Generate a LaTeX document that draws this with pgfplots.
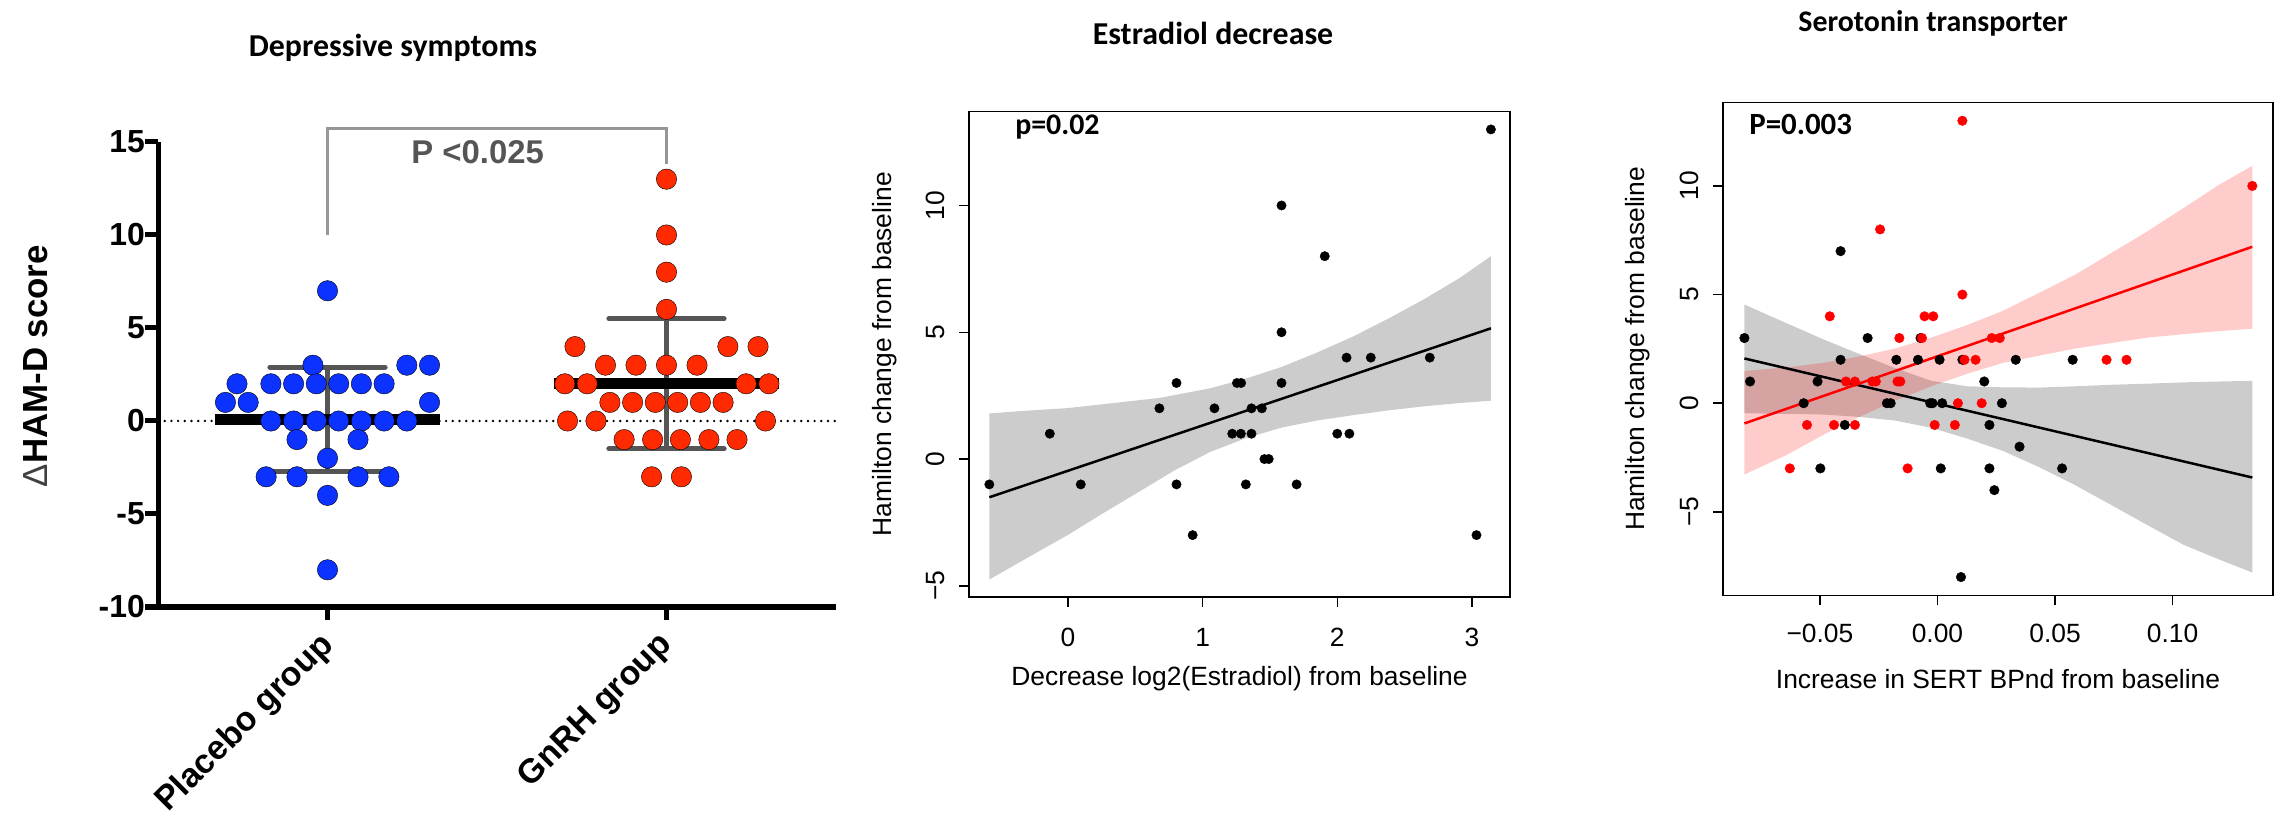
\documentclass[border=0pt]{standalone}
\usepackage{fontspec}
\setmainfont{Liberation Sans}
\newfontfamily\calib{Carlito}
\usepackage{pgfplots}
\pgfplotsset{compat=1.18}
\definecolor{dotblue}{RGB}{12,50,255}
\definecolor{dotred}{RGB}{255,42,0}
\definecolor{barcol}{RGB}{85,85,85}
\definecolor{bracket}{RGB}{150,150,150}
\definecolor{bandgray}{RGB}{204,204,204}
\newcommand{\fs}[1]{\fontsize{#1}{#1}\selectfont}

\begin{document}
\begin{tikzpicture}
\path[use as bounding box] (0,0) rectangle (2280bp,819bp);

% ---- titles
\node[anchor=base, font=\calib\bfseries\fs{32}, inner sep=0pt] at (393bp,762bp) {Depressive symptoms};
\node[anchor=base, font=\calib\bfseries\fs{32}, inner sep=0pt] at (1213bp,774bp) {Estradiol decrease};
\node[anchor=base, font=\calib\bfseries\fs{30}, inner sep=0pt] at (1933bp,787bp) {Serotonin transporter};

% ---- panel 1: scatter dot plot
\begin{axis}[
  at={(158bp,212bp)}, anchor=south west,
  scale only axis, width=678bp, height=465bp,
  xmin=0.5, xmax=2.5, ymin=-10, ymax=15,
  axis x line*=bottom, axis y line*=left,
  axis line style={line width=5bp, -},
  tick style={line width=5bp, black},
  tick align=outside, major tick length=13bp,
  xtick={1,2}, xticklabels={Placebo group, GnRH group},
  ytick={-10,-5,0,5,10,15}, yticklabels={-10,-5,0,5,10,15},
  xticklabel style={font=\bfseries\fs{34}, xshift=-10bp, yshift=-9bp, rotate=45, anchor=north east, inner sep=0pt},
  yticklabel style={font=\bfseries\fs{32}, inner sep=0pt},
  ylabel={{\mdseries\color{darkgray}Δ}HAM-D score},
  ylabel style={at={(axis description cs:-0.18,0.518)}, anchor=center, font=\bfseries\fs{35}},
  clip=false,
]
\addplot[line width=2.7bp, line cap=round, dash pattern=on 0bp off 6.7bp] coordinates {(0.5,0) (2.5,0)};
\addplot[only marks, mark=*, mark size=10.2bp, mark options={draw=none, fill=dotblue}] coordinates {
  (1.000,7)
  (0.957,3) (1.234,3) (1.301,3)
  (0.733,2) (0.833,2) (0.900,2) (0.967,2) (1.033,2) (1.100,2) (1.167,2)
  (0.699,1) (0.766,1) (1.301,1)
  (0.833,0) (0.900,0) (0.967,0) (1.033,0) (1.100,0) (1.167,0) (1.234,0)
  (0.910,-1) (1.090,-1)
  (1.000,-2)
  (0.819,-3) (0.910,-3) (1.090,-3) (1.181,-3)
  (1.000,-4)
  (1.000,-8)
};
\addplot[only marks, mark=*, mark size=10.2bp, mark options={draw=none, fill=dotred}] coordinates {
  (2,13) (2,10) (2,8) (2,6)
  (1.730,4) (2.181,4) (2.270,4)
  (1.820,3) (1.910,3) (2.000,3) (2.090,3)
  (1.700,2) (1.766,2) (2.235,2) (2.302,2)
  (1.833,1) (1.900,1) (1.967,1) (2.033,1) (2.100,1) (2.167,1)
  (1.708,0) (1.792,0) (2.292,0)
  (1.875,-1) (1.959,-1) (2.041,-1) (2.125,-1) (2.208,-1)
  (1.956,-3) (2.044,-3)
};
% SD bars
\addplot[barcol, line width=5bp] coordinates {(1,-2.7) (1,2.9)};
\addplot[barcol, line width=5bp, line cap=round] coordinates {(0.83,2.9) (1.17,2.9)};
\addplot[barcol, line width=5bp, line cap=round] coordinates {(0.83,-2.7) (1.17,-2.7)};
\addplot[barcol, line width=5bp] coordinates {(2,-1.5) (2,5.5)};
\addplot[barcol, line width=5bp, line cap=round] coordinates {(1.83,5.5) (2.17,5.5)};
\addplot[barcol, line width=5bp, line cap=round] coordinates {(1.83,-1.5) (2.17,-1.5)};
% means
\addplot[black, line width=11bp] coordinates {(0.668,0.1) (1.332,0.1)};
\addplot[black, line width=11bp] coordinates {(1.667,2.0) (2.333,2.0)};
% significance bracket
\addplot[bracket, line width=3.5bp] coordinates {(1,10) (1,15.72) (2,15.72) (2,13.8)};
\node[font=\bfseries\fs{33}, text=barcol] at (axis cs:1.443,14.46) {P <0.025};
\end{axis}

% ---- panel 2: estradiol
\begin{axis}[
  at={(969bp,222bp)}, anchor=south west,
  scale only axis, width=541bp, height=485.6bp,
  xmin=-0.735, xmax=3.283, ymin=-5.44, ymax=13.71,
  axis line style={line width=1.5bp},
  tick style={line width=1.5bp, black},
  tick align=outside, major tick length=10bp, tick pos=left,
  xtick={0,1,2,3}, xticklabels={0,1,2,3},
  ytick={-5,0,5,10}, yticklabels={−5,0,5,10},
  ticklabel style={font=\fs{26.5}},
  xticklabel shift=21bp, yticklabel shift=14bp,
  xticklabel style={anchor=north, inner sep=0pt},
  yticklabel style={rotate=90, anchor=south, inner sep=0pt},
  xlabel={Decrease log2(Estradiol) from baseline},
  ylabel={Hamilton change from baseline},
  label style={font=\fs{26.5}},
  xlabel style={at={(axis description cs:0.5,-0.169)}, anchor=center},
  ylabel style={at={(axis description cs:-0.155,0.5)}, anchor=center},
]
\addplot[fill=bandgray, draw=none] coordinates {
  (-0.584,1.80) (-0.3,1.91) (0,2.01) (0.68,2.41) (1.056,2.79) (1.32,3.17) (1.586,3.63)
  (1.85,4.2) (2.117,4.83) (2.38,5.54) (2.647,6.31) (2.912,7.15) (3.141,8.0)
  (3.141,2.30) (2.912,2.21) (2.647,2.08) (2.38,1.92) (2.117,1.73) (1.85,1.52)
  (1.586,1.24) (1.32,0.82) (1.056,0.28) (0.79,-0.45) (0.525,-1.30) (0.26,-2.14)
  (0,-2.99) (-0.27,-3.8) (-0.584,-4.75)
} -- cycle;
\addplot[black, line width=2.5bp] coordinates {(-0.584,-1.507) (3.141,5.155)};
\addplot[only marks, mark=*, mark size=4.7bp, black] coordinates {
  (-0.584,-1) (-0.135,1) (0.095,-1) (0.679,2) (0.806,3) (0.806,-1) (0.926,-3)
  (1.088,2) (1.220,1) (1.255,3) (1.286,3) (1.284,1) (1.321,-1) (1.363,2) (1.363,1)
  (1.440,2) (1.459,0) (1.491,0) (1.586,10) (1.586,5) (1.586,3) (1.698,-1)
  (1.907,8) (2.000,1) (2.069,4) (2.090,1) (2.249,4) (2.687,4) (3.034,-3) (3.141,13)
};
\node[anchor=base west, inner sep=0pt, font=\calib\bfseries\fs{30}] at (axis cs:-0.393,12.78) {p=0.02};
\end{axis}

% ---- panel 3: serotonin transporter
\begin{axis}[
  at={(1723bp,223.7bp)}, anchor=south west,
  scale only axis, width=550bp, height=493bp,
  xmin=-0.0912, xmax=0.1427, ymin=-8.84, ymax=13.85,
  axis line style={line width=1.5bp},
  tick style={line width=1.5bp, black},
  tick align=outside, major tick length=10bp, tick pos=left,
  xtick={-0.05,0,0.05,0.1}, xticklabels={−0.05,0.00,0.05,0.10},
  ytick={-5,0,5,10}, yticklabels={−5,0,5,10},
  ticklabel style={font=\fs{26.5}},
  xticklabel shift=19bp, yticklabel shift=14bp,
  xticklabel style={anchor=north, inner sep=0pt},
  yticklabel style={rotate=90, anchor=south, inner sep=0pt},
  xlabel={Increase in SERT BPnd from baseline},
  ylabel={Hamilton change from baseline},
  label style={font=\fs{26.5}},
  xlabel style={at={(axis description cs:0.5,-0.170)}, anchor=center},
  ylabel style={at={(axis description cs:-0.1545,0.5)}, anchor=center},
]
\addplot[fill=bandgray, draw=none] coordinates {
  (-0.0821,4.54) (-0.0486,2.94) (-0.0333,2.27) (-0.0179,1.61) (-0.0026,1.03)
  (0.0127,0.78) (0.028,0.73) (0.0434,0.72) (0.0587,0.78) (0.074,0.85)
  (0.0893,0.90) (0.1047,0.96) (0.12,1.00) (0.1339,1.03)
  (0.1339,-7.79) (0.12,-7.2) (0.1047,-6.52) (0.0893,-5.61) (0.074,-4.69)
  (0.0587,-3.78) (0.0434,-2.95) (0.028,-2.20) (0.0127,-1.63) (-0.0026,-1.13)
  (-0.0179,-0.80) (-0.0333,-0.63) (-0.0486,-0.52) (-0.0821,-0.46)
} -- cycle;
\addplot[fill=red, fill opacity=0.2, draw=none] coordinates {
  (-0.0821,1.48) (-0.0639,1.65) (-0.0486,1.86) (-0.0333,2.15) (-0.0179,2.52)
  (-0.0026,3.02) (0.0127,3.60) (0.028,4.26) (0.0434,5.09) (0.0587,5.92)
  (0.074,6.92) (0.0893,7.91) (0.1047,8.99) (0.12,10.07) (0.1339,10.93)
  (0.1339,3.43) (0.12,3.32) (0.1047,3.18) (0.0893,3.02) (0.074,2.77)
  (0.0587,2.52) (0.0434,2.19) (0.028,1.86) (0.0127,1.36) (-0.0026,0.78)
  (-0.0179,0.12) (-0.0333,-0.63) (-0.0486,-1.46) (-0.0639,-2.37) (-0.0821,-3.28)
} -- cycle;
\addplot[black, line width=2.5bp] coordinates {(-0.0821,2.06) (0.1339,-3.42)};
\addplot[red, line width=2.5bp] coordinates {(-0.0821,-0.93) (0.1339,7.20)};
\addplot[only marks, mark=*, mark size=4.8bp, black] coordinates {
  (-0.0821,3) (-0.0297,3) (-0.0072,3)
  (-0.0412,7)
  (-0.0412,2) (-0.0175,2) (-0.0083,2) (0.0009,2) (0.0106,2) (0.0333,2) (0.0575,2)
  (-0.0797,1) (-0.0510,1) (0.0199,1)
  (-0.0569,0) (-0.0215,0) (-0.0199,0) (-0.0031,0) (-0.0021,0) (0.0020,0) (0.0274,0)
  (-0.0394,-1) (0.0221,-1)
  (0.0349,-2)
  (-0.0498,-3) (0.0014,-3) (0.0221,-3) (0.0530,-3)
  (0.0242,-4)
  (0.0100,-8)
};
\addplot[only marks, mark=*, mark size=4.8bp, red] coordinates {
  (0.0106,13) (0.1339,10) (-0.0244,8) (0.0106,5)
  (-0.0458,4) (-0.0055,4) (-0.0018,4)
  (-0.0162,3) (-0.0066,3) (0.0231,3) (0.0265,3)
  (0.0115,2) (0.0162,2) (0.0719,2) (0.0804,2)
  (-0.0389,1) (-0.0351,1) (-0.0277,1) (-0.0262,1) (-0.0170,1) (-0.0158,1)
  (0.0087,0) (0.0188,0)
  (-0.0555,-1) (-0.0440,-1) (-0.0351,-1) (-0.0012,-1) (0.0074,-1)
  (-0.0628,-3) (-0.0127,-3)
};
\node[anchor=base west, inner sep=0pt, font=\calib\bfseries\fs{31}] at (axis cs:-0.0801,12.39) {P=0.003};
\end{axis}
\end{tikzpicture}
\end{document}
